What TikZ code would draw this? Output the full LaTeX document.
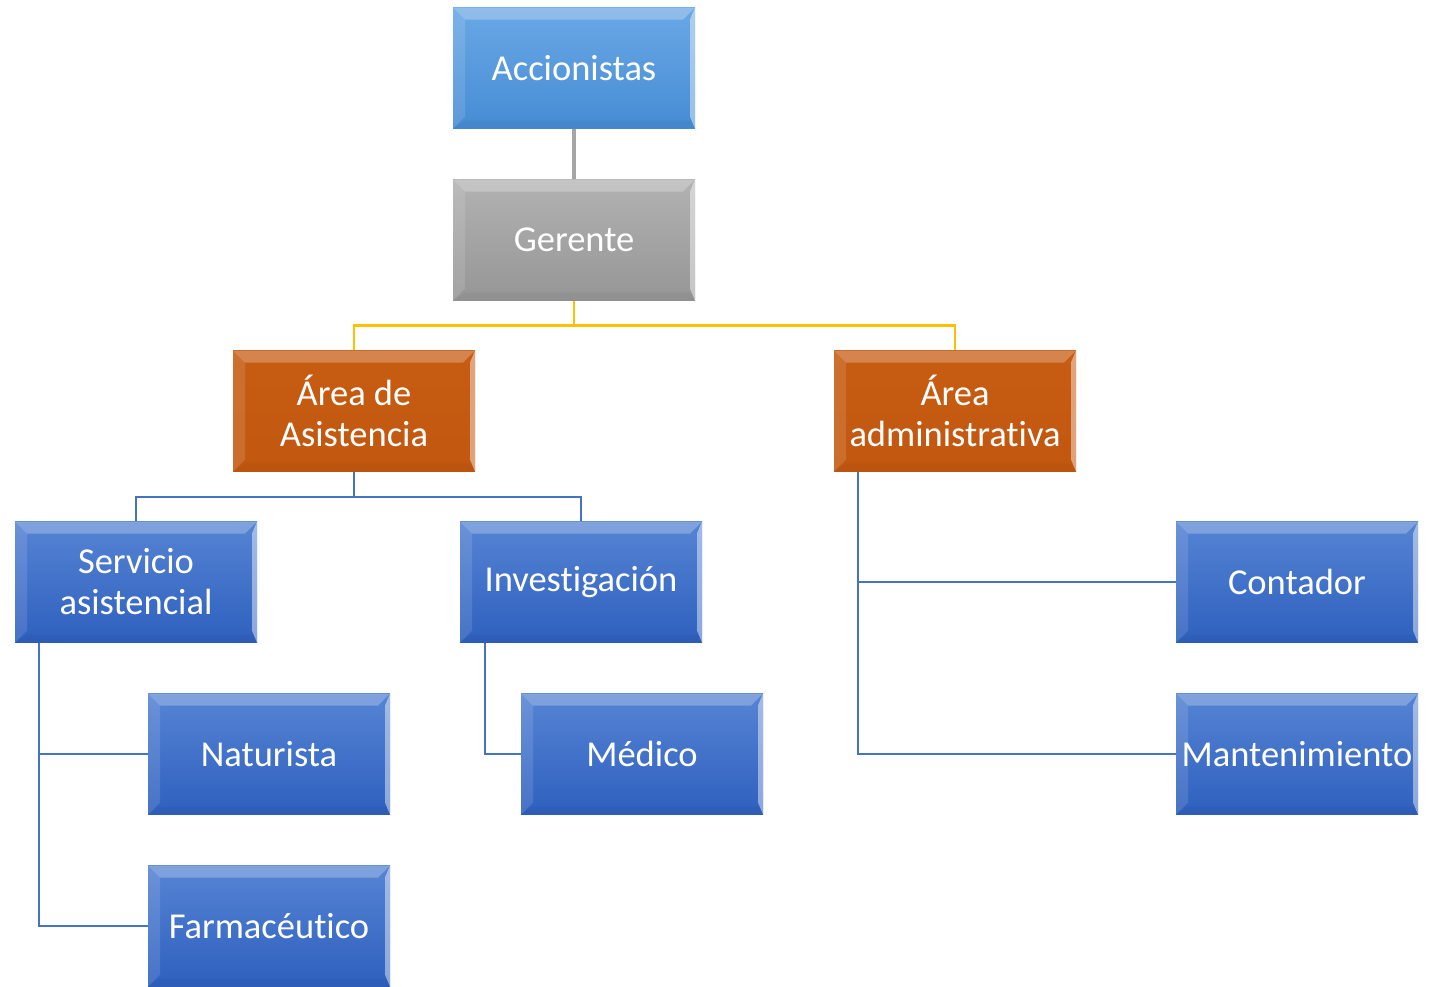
\documentclass[tikz,border=0pt]{standalone}
\usepackage{fontspec}
\setmainfont{Carlito}[RawFeature=-liga, RawFeature=-clig, RawFeature=-calt, RawFeature=-dlig]
\usetikzlibrary{positioning}

\definecolor{accTop}{RGB}{106,168,230}
\definecolor{accBot}{RGB}{70,140,212}
\definecolor{gerTop}{RGB}{178,178,178}
\definecolor{gerBot}{RGB}{150,150,150}
\definecolor{areaTop}{RGB}{199,92,18}
\definecolor{areaBot}{RGB}{194,88,16}
\definecolor{unitTop}{RGB}{86,132,212}
\definecolor{unitBot}{RGB}{46,96,190}
\definecolor{lineBlue}{RGB}{68,114,196}
\definecolor{lineGray}{RGB}{165,165,165}
\definecolor{lineGold}{RGB}{255,192,0}

\begin{document}
\begin{tikzpicture}[
            x = 1pt, y = -1pt, % picture units, y grows downwards
            box/.style = {rectangle, minimum width=242pt, minimum height=121pt,
                inner sep=0pt, align=center, text=white,
                font=\fontsize{36.5}{41}\selectfont,
                path picture={
                    % bevel: light top, lighter left, bright right, dark bottom
                    \fill[white,opacity=.25] (path picture bounding box.north west)
                        -- (path picture bounding box.north east)
                        -- ([xshift=-12pt,yshift=-12pt]path picture bounding box.north east)
                        -- ([xshift=12pt,yshift=-12pt]path picture bounding box.north west) -- cycle;
                    \fill[white,opacity=.12] (path picture bounding box.north west)
                        -- ([xshift=12pt,yshift=-12pt]path picture bounding box.north west)
                        -- ([xshift=12pt,yshift=12pt]path picture bounding box.south west)
                        -- (path picture bounding box.south west) -- cycle;
                    \fill[white,opacity=.45] (path picture bounding box.north east)
                        -- ([xshift=-5pt,yshift=-12pt]path picture bounding box.north east)
                        -- ([xshift=-5pt,yshift=12pt]path picture bounding box.south east)
                        -- (path picture bounding box.south east) -- cycle;
                    \fill[black,opacity=.04] (path picture bounding box.south west)
                        -- ([xshift=12pt,yshift=8pt]path picture bounding box.south west)
                        -- ([xshift=-5pt,yshift=8pt]path picture bounding box.south east)
                        -- (path picture bounding box.south east) -- cycle;
                }},
            top/.style = {box, top color=accTop, bottom color=accBot},
            boss/.style = {box, top color=gerTop, bottom color=gerBot},
            area/.style = {box, top color=areaTop, bottom color=areaBot},
            unit/.style = {box, top color=unitTop, bottom color=unitBot},
            link/.style = {lineBlue, line width=2.2pt}
        ]

        \useasboundingbox (0,0) rectangle (1431,986);

        \node[top]  (acc)   at (574,68)   {Accionistas};
        \node[boss] (ger)   at (574,240)  {Gerente};
        \node[area] (asis)  at (354,411)  {Área de\\Asistencia};
        \node[area] (admin) at (955,411)  {Área\\administrativa};
        \node[unit] (serv)  at (136,582)  {Servicio\\asistencial};
        \node[unit] (inv)   at (581,582)  {Investigación};
        \node[unit] (cont)  at (1297,582) {Contador};
        \node[unit] (nat)   at (269,754)  {Naturista};
        \node[unit] (med)   at (642,754)  {Médico};
        \node[unit] (mant)  at (1297,754) {Mantenimiento};
        \node[unit] (farm)  at (269,926)  {Farmacéutico};

        \draw[lineGray, line width=3.5pt] (acc) -- (ger);
        \draw[lineGold, line width=2.6pt] (ger.south) -- ++(0,25) -| (asis.north);
        \draw[lineGold, line width=2.6pt] (ger.south) -- ++(0,25) -| (admin.north);
        \draw[link] (asis.south) -- ++(0,25) -| (serv.north);
        \draw[link] (asis.south) -- ++(0,25) -| (inv.north);
        \draw[link] ([xshift=24pt]serv.south west) |- (nat.west);
        \draw[link] ([xshift=24pt]serv.south west) |- (farm.west);
        \draw[link] ([xshift=25pt]inv.south west)  |- (med.west);
        \draw[link] ([xshift=24pt]admin.south west) |- (cont.west);
        \draw[link] ([xshift=24pt]admin.south west) |- (mant.west);
    \end{tikzpicture}
\end{document}
